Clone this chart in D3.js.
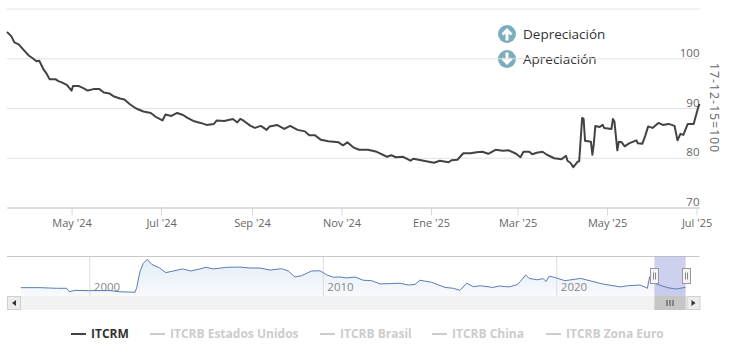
<!DOCTYPE html>
<html>
<head>
<meta charset="utf-8">
<script src="https://cdn.jsdelivr.net/npm/d3@7"></script>
<style>
  body { margin: 0; background: #fff; }
  svg { display: block; font-family: "Open Sans", sans-serif; }
</style>
</head>
<body>
<svg id="chart" width="734" height="361"></svg>
<script>
// days since the first date of the zoomed window
const startDate = new Date(2024, 2, 18);
const dayOffsets = [0,3,5,8,11,15,18,20,22,25,27,29,33,35,37,41,42,44,45,49,52,55,59,63,66,70,73,77,80,84,88,93,98,102,106,108,112,116,120,123,127,132,136,141,143,148,154,157,159,161,166,169,173,177,179,184,189,193,198,203,206,210,214,219,226,229,232,236,240,246,252,259,262,265,270,275,277,284,291,295,301,303,307,311,316,320,324,328,333,338,342,347,350,352,356,358,361,365,368,373,378,381,382,384,386,389,390,392,393,394,398,399,400,401,404,406,407,412,413,414,416,417,419,421,424,429,430,433,435,437,440,444,447,451,455,457,459,461,464,468,471,472];
const itcrm = [105.3,104.4,103.2,102.8,101.8,100.5,99.9,99.4,99.5,97.7,96.9,95.8,95.8,95.4,95.2,94.6,94.2,93.5,94.4,94.4,94.0,93.5,93.8,93.8,93.1,92.9,92.3,91.9,91.7,90.7,89.9,89.3,89.0,88.1,87.5,88.7,88.4,89.0,88.6,88.0,87.4,87.0,86.6,86.8,87.5,87.4,87.8,87.1,87.8,87.5,86.4,86.0,86.4,85.6,86.3,86.6,85.8,86.4,85.6,85.3,84.5,84.5,83.6,83.3,83.1,82.5,83.1,82.1,81.6,81.6,81.2,80.2,80.5,80.1,80.2,79.4,79.8,79.4,79.0,79.4,79.1,79.5,79.6,80.9,80.9,81.1,81.2,80.8,81.6,81.4,81.5,80.8,80.1,81.2,81.2,80.7,81.0,81.2,80.6,79.9,79.7,80.4,79.4,79.0,78.1,79.2,79.3,88.0,87.8,83.4,83.2,80.6,82.9,86.4,86.2,86.6,86.0,85.8,87.8,87.3,81.5,83.2,83.1,82.3,82.9,83.5,82.9,82.8,84.4,86.3,86.0,87.0,86.6,86.8,86.4,83.5,84.8,84.6,86.8,86.8,90.0,90.8];

const yTicks = [70, 80, 90, 100, 110];
const xTickDates = [new Date(2024,4,1), new Date(2024,6,1), new Date(2024,8,1), new Date(2024,10,1), new Date(2025,0,1), new Date(2025,2,1), new Date(2025,4,1), new Date(2025,6,1)];
const xTickLabels = ["May '24", "Jul '24", "Sep '24", "Nov '24", "Ene '25", "Mar '25", "May '25", "Jul '25"];

// navigator: whole series since 1997
const navYears = [1997.07,1997.89,1998.6,1999.03,1999.14,1999.39,1999.96,2000.89,2001.31,2001.96,2002.03,2002.17,2002.31,2002.48,2002.67,2003.0,2003.28,2003.6,2004.0,2004.34,2004.74,2005.0,2005.31,2005.88,2006.45,2006.88,2007.31,2007.74,2008.24,2008.52,2008.81,2009.1,2009.52,2009.88,2010.17,2010.45,2010.74,2011.02,2011.38,2011.73,2012.09,2012.45,2013.31,2013.66,2013.95,2014.16,2014.66,2015.23,2015.59,2015.87,2016.16,2016.45,2016.74,2017.16,2017.26,2017.55,2017.97,2018.33,2018.45,2018.69,2018.83,2019.19,2019.44,2019.56,2019.69,2019.9,2020.37,2021.04,2021.97,2022.76,2023.04,2023.58,2023.76,2023.9,2024.0,2024.11,2024.33,2024.76,2025.11,2025.53];
const navValues = [85.8,85.8,83,83,68,74,73,73,68,66,86,155,191,208.5,187,172,151,158,167,158,167,174,167,174,175,171,171,162,168,158,132,138,158,159,141,131,132,128,132,118,116,102,105,97,100,118,109,87,83,74,105,90,94,89,86,93,89,99,112,141,126,120,125,112,135,131,116,126,102,89,94,97,90,83,133,109,100,86,80,87];
const navTicks = [2000, 2010, 2020];
const selectedYears = [2024.2, 2025.54];

const legendNames = ["ITCRM", "ITCRB Estados Unidos", "ITCRB Brasil", "ITCRB China", "ITCRB Zona Euro"];
const legendLines = [71, 150, 320, 432, 546];
const arrowNames = ["Depreciación", "Apreciación"];

const svg = d3.select("#chart");
const dates = dayOffsets.map((d) => d3.timeDay.offset(startDate, d));

const x = d3.scaleTime().domain([startDate, d3.timeDay.offset(startDate, 472.4)]).range([7, 699.5]);
const y = d3.scaleLinear().domain([70, 110]).range([207.5, 8.5]);

// up / down arrows, they sit under the grid lines in the original
const arrows = svg.append("g").selectAll("g").data(arrowNames).join("g")
  .attr("transform", (d, i) => `translate(507,${34 + i * 25})`);
arrows.append("circle").attr("r", 9).attr("fill", "#7badbd");
arrows.append("path")
  .attr("d", "M0,-6L5.5,-0.5L3.5,1.5L1.5,-0.5L1.5,6.5L-1.5,6.5L-1.5,-0.5L-3.5,1.5L-5.5,-0.5Z")
  .attr("fill", "#fff")
  .attr("transform", (d, i) => (i ? "rotate(180)" : null));
arrows.append("text")
  .attr("x", 16).attr("y", 4.5)
  .attr("font-size", 13.5).attr("fill", "#333")
  .text((d) => d);

// y axis with grid
svg.append("g")
  .attr("transform", "translate(699.5,0)")
  .call(d3.axisRight(y).tickValues(yTicks).tickSize(-692.5).tickFormat((d) => (d === 110 ? "" : d)))
  .call((g) => g.select(".domain").remove())
  .call((g) => g.selectAll("line").attr("stroke", "#e2e2e2"))
  .call((g) => g.selectAll("text")
    .attr("x", 0).attr("dy", -2)
    .attr("text-anchor", "end")
    .attr("font-family", "Open Sans")
    .attr("font-size", 11.5)
    .attr("fill", "#666"));

svg.append("text")
  .attr("transform", "translate(710,108) rotate(90)")
  .attr("text-anchor", "middle")
  .attr("font-size", 12.5)
  .attr("letter-spacing", 0.9)
  .attr("fill", "#666")
  .text("17-12-15=100");

// x axis
svg.append("g")
  .attr("transform", "translate(0,207.5)")
  .call(d3.axisBottom(x).tickValues(xTickDates).tickSize(8).tickPadding(4).tickSizeOuter(0)
    .tickFormat((d, i) => xTickLabels[i]))
  .call((g) => g.select(".domain").attr("stroke", "#c8c8c8"))
  .call((g) => g.selectAll("line").attr("stroke", "#d8d8d8"))
  .call((g) => g.selectAll("text")
    .attr("font-family", "Open Sans")
    .attr("font-size", 11)
    .attr("fill", "#666"));

const line = d3.line().x((d, i) => x(dates[i])).y((d) => y(d));
svg.append("path")
  .datum(itcrm)
  .attr("d", line)
  .attr("fill", "none")
  .attr("stroke", "#434343")
  .attr("stroke-width", 2)
  .attr("stroke-linejoin", "round");

// navigator
const nx = d3.scaleLinear().domain([2000, 2020]).range([89.3, 556.3]);
const ny = d3.scaleLinear().domain([80, 210]).range([289, 259]);
const navTop = 256.5;
const navBottom = 296;

const grad = svg.append("defs").append("linearGradient")
  .attr("id", "navFill").attr("x1", 0).attr("x2", 0).attr("y1", 0).attr("y2", 1);
grad.append("stop").attr("offset", 0).attr("stop-color", "#e4edf8");
grad.append("stop").attr("offset", 1).attr("stop-color", "#f8fafd");

const navArea = d3.area()
  .x((d, i) => nx(navYears[i]))
  .y0(navBottom)
  .y1((d) => ny(d));
svg.append("path").datum(navValues).attr("d", navArea).attr("fill", "url(#navFill)");

svg.append("g")
  .attr("transform", `translate(0,${navTop})`)
  .call(d3.axisBottom(nx).tickValues(navTicks).tickSize(navBottom - navTop).tickFormat(d3.format("d")))
  .call((g) => g.select(".domain").remove())
  .call((g) => g.selectAll("line").attr("stroke", "#dcdcdc"))
  .call((g) => g.selectAll("text")
    .attr("x", 4).attr("y", 31).attr("dy", "0.32em")
    .attr("text-anchor", "start")
    .attr("font-family", "Open Sans")
    .attr("font-size", 11.5)
    .attr("fill", "#888"));

svg.append("line")
  .attr("x1", 7).attr("x2", 699.5).attr("y1", navTop).attr("y2", navTop)
  .attr("stroke", "#c8c8c8");

svg.append("path")
  .datum(navValues)
  .attr("d", d3.line().x((d, i) => nx(navYears[i])).y((d) => ny(d)))
  .attr("fill", "none")
  .attr("stroke", "#5b7db5")
  .attr("stroke-width", 1);

const selX0 = nx(selectedYears[0]);
const selX1 = nx(selectedYears[1]);
svg.append("rect")
  .attr("x", selX0).attr("y", navTop)
  .attr("width", selX1 - selX0).attr("height", navBottom - navTop)
  .attr("fill", "#6a72c8").attr("fill-opacity", 0.33);

// scrollbar
const barY = 296;
const barH = 14;
svg.append("rect").attr("x", 7).attr("y", barY).attr("width", 692.5).attr("height", barH).attr("fill", "#f2f2f2");
svg.append("rect").attr("x", selX0).attr("y", barY).attr("width", selX1 - selX0).attr("height", barH).attr("fill", "#c6c6c6");
svg.selectAll(".grip").data([-3, 0, 3]).join("line")
  .attr("class", "grip")
  .attr("x1", (d) => (selX0 + selX1) / 2 + d).attr("x2", (d) => (selX0 + selX1) / 2 + d)
  .attr("y1", barY + 4).attr("y2", barY + 10)
  .attr("stroke", "#444");

[[7, 1], [686.5, -1]].forEach(([bx, dir]) => {
  svg.append("rect")
    .attr("x", bx + 0.5).attr("y", barY + 0.5).attr("width", 13).attr("height", barH - 1)
    .attr("fill", "#ececec").attr("stroke", "#cfcfcf");
  const cx = bx + 7;
  svg.append("path")
    .attr("d", `M${cx + dir * 2},${barY + 4}L${cx + dir * 2},${barY + 10}L${cx - dir * 2},${barY + 7}Z`)
    .attr("fill", "#333");
});

// handles on the selected range
[selX0, selX1].forEach((hx) => {
  const h = svg.append("g").attr("transform", `translate(${Math.round(hx) + 0.5},268.5)`);
  h.append("rect").attr("x", -4).attr("y", 0).attr("width", 8).attr("height", 15)
    .attr("fill", "#f4f4f4").attr("stroke", "#999");
  h.selectAll("line").data([-1, 1]).join("line")
    .attr("x1", (d) => d).attr("x2", (d) => d).attr("y1", 4).attr("y2", 11)
    .attr("stroke", "#888");
});

// legend
const legend = svg.append("g").selectAll("g").data(legendNames).join("g")
  .attr("transform", (d, i) => `translate(${legendLines[i]},334)`);
legend.append("line")
  .attr("x2", 15)
  .attr("stroke", (d, i) => (i ? "#cccccc" : "#434343"))
  .attr("stroke-width", 2);
legend.append("text")
  .attr("x", 20).attr("y", 4)
  .attr("font-size", 12).attr("font-weight", 700)
  .attr("fill", (d, i) => (i ? "#cccccc" : "#333"))
  .text((d) => d);
</script>
</body>
</html>
